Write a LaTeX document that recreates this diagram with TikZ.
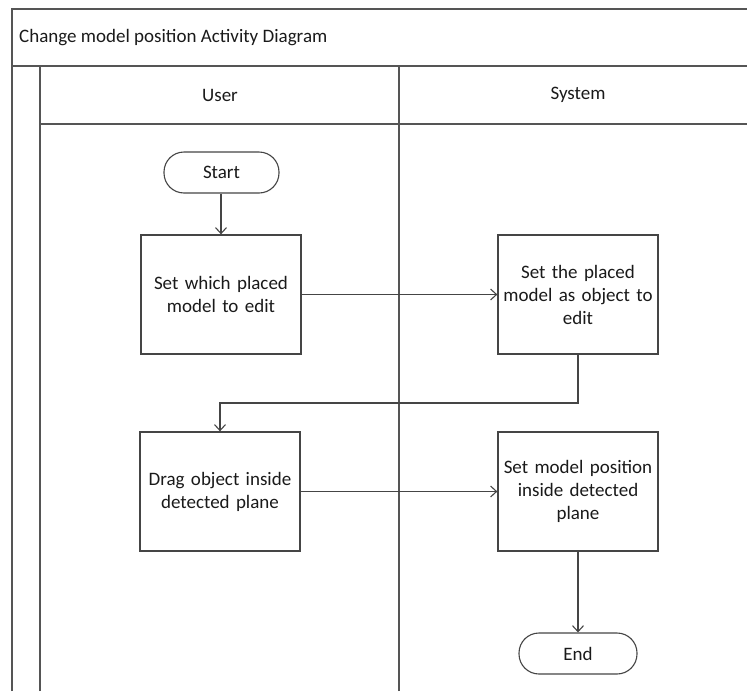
\documentclass[tikz,border=0pt]{standalone}
\usepackage{fontspec}
\setmainfont{Carlito}
\usetikzlibrary{arrows.meta}
\definecolor{frame}{HTML}{555555}
\definecolor{boxline}{HTML}{454545}
\definecolor{txt}{HTML}{1A1A1A}
\tikzset{
  lane/.style={draw=frame, line width=1.4pt},
  actbox/.style={draw=boxline, line width=1.3pt, fill=white, minimum width=160pt, minimum height=119pt, align=center, text width=150pt, inner sep=0pt, text=txt, font=\fontsize{19}{23}\selectfont},
  term/.style={draw=boxline, line width=1.1pt, fill=white, rounded corners=20pt, minimum height=41pt, inner sep=0pt, text=txt, font=\fontsize{19}{23}\selectfont},
  flow/.style={draw=boxline, line width=1.1pt, -{Straight Barb[length=6pt,width=11pt]}},
  lbl/.style={inner sep=0pt, text=txt, font=\fontsize{19}{23}\selectfont}
}
\begin{document}
\begin{tikzpicture}[x=1pt,y=-1pt]
\useasboundingbox (0,0) rectangle (747,691);
% frame
\draw[lane] (12,691) -- (12,9) -- (760,9);
\draw[lane] (12,66) -- (760,66);
\draw[lane] (40,691) -- (40,66);
\draw[lane] (40,124) -- (760,124);
\draw[lane] (399,691) -- (399,66);
\node[lbl, anchor=west] (title) at (19,38) {Change model position Activity Diagram};
\node[lbl] (user) at (220,95) {User};
\node[lbl] (sys) at (578,95) {System};
% nodes
\node[term, minimum width=115pt] (start) at (221.5,172.5) {Start};
\node[actbox] (b1) at (221,294.5) {Set which placed\\model to edit};
\node[actbox] (b2) at (578,294.5) {Set the placed\\model as object to\\edit};
\node[actbox] (b3) at (220,491.5) {Drag object inside\\detected plane};
\node[actbox] (b4) at (578,491.5) {Set model position\\inside detected\\plane};
\node[term, minimum width=118pt] (end) at (578,653.5) {End};
\coordinate (c1) at (578,403);
\coordinate (c2) at (220,403);
% connectors
\draw[flow] (start.south -| b1.north) -- (b1.north);
\draw[flow] (b1.east) -- (b2.west);
\draw[flow] (b2.south) -- (c1) -- (c2) -- (b3.north);
\draw[flow] (b3.east) -- (b4.west);
\draw[flow] (b4.south) -- (end.north);
\end{tikzpicture}
\end{document}
